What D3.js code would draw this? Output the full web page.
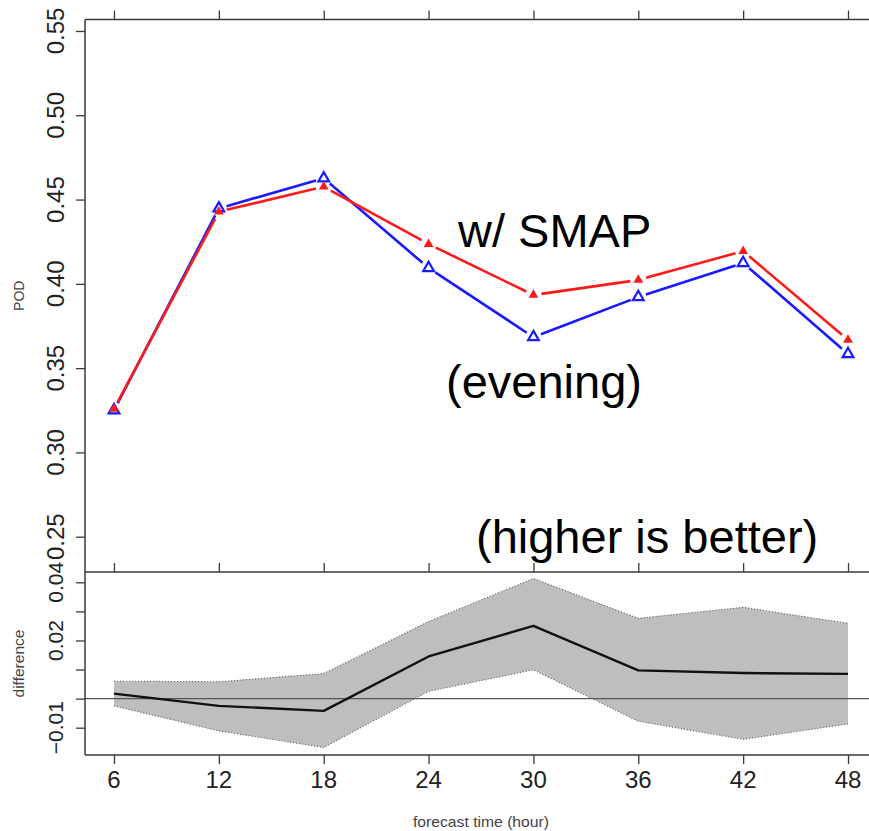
<!DOCTYPE html>
<html>
<head>
<meta charset="utf-8">
<script src="https://cdn.jsdelivr.net/npm/d3@7"></script>
<style>
  html, body { margin: 0; padding: 0; background: #fff; }
  svg { display: block; }
  svg text { font-family: "Liberation Sans", Arial, Helvetica, sans-serif; }
</style>
</head>
<body>
<svg id="chart" width="869" height="831"></svg>
<script>
// ---- data ----
const hours = [6, 12, 18, 24, 30, 36, 42, 48];
const podSMAP = [0.3258, 0.4428, 0.4576, 0.4236, 0.3934, 0.4023, 0.4194, 0.3667];   // red, filled triangles
const podCtrl = [0.3250, 0.4448, 0.4626, 0.4094, 0.3684, 0.3922, 0.4124, 0.3584];   // blue, open triangles
const diffMean  = [0.0017, -0.0025, -0.0042, 0.0145, 0.0250, 0.0097, 0.0088, 0.0085];
const diffUpper = [0.0060, 0.0058, 0.0086, 0.0265, 0.0413, 0.0276, 0.0314, 0.0259];
const diffLower = [-0.0025, -0.0111, -0.0168, 0.0025, 0.0099, -0.0078, -0.0140, -0.0087];
const podTicks = [0.25, 0.30, 0.35, 0.40, 0.45, 0.50, 0.55];
const podTickLabels = ["0.25", "0.30", "0.35", "0.40", "0.45", "0.50", "0.55"];
const diffTicks = [-0.01, 0, 0.01, 0.02, 0.03, 0.04];
const diffLabelTicks = [-0.01, 0.02, 0.04];
const diffTickLabels = ["\u22120.01", "0.02", "0.04"];
const xTickLabels = ["6", "12", "18", "24", "30", "36", "42", "48"];
const annotations = ["w/ SMAP", "(evening)", "(higher is better)"];

// ---- layout ----
const L = 85, R = 877, T = 19.5, MID = 572, B = 755;
const svg = d3.select("#chart");
const FONT = "'Liberation Sans', Arial, Helvetica, sans-serif";

const x = d3.scaleLinear().domain([6, 48]).range([114, 848]);
const yTop = d3.scaleLinear().domain([0.25, 0.55]).range([536.7, 31]);
const yBot = d3.scaleLinear().domain([-0.01, 0.04]).range([727.7, 582.3]);

const axisColor = "#3a3a3a";

// ---- bottom panel: band ----
const band = hours.map((h, i) => ({h, lo: diffLower[i], hi: diffUpper[i], m: diffMean[i]}));
svg.append("path")
  .datum(band)
  .attr("d", d3.area().x(d => x(d.h)).y0(d => yBot(d.lo)).y1(d => yBot(d.hi)))
  .attr("fill", "#bebebe");
[d => d.hi, d => d.lo].forEach(acc => {
  svg.append("path")
    .datum(band)
    .attr("d", d3.line().x(d => x(d.h)).y(d => yBot(acc(d))))
    .attr("fill", "none").attr("stroke", "#666").attr("stroke-width", 1.1)
    .attr("stroke-dasharray", "1.2,1.8");
});
// zero line
svg.append("line")
  .attr("x1", L).attr("x2", 869).attr("y1", yBot(0)).attr("y2", yBot(0))
  .attr("stroke", "#555").attr("stroke-width", 1.2);
// mean diff line
svg.append("path")
  .datum(band)
  .attr("d", d3.line().x(d => x(d.h)).y(d => yBot(d.m)))
  .attr("fill", "none").attr("stroke", "#111").attr("stroke-width", 2.4)
  .attr("stroke-linejoin", "round");

// ---- top panel: lines with gaps (type = "b") ----
function gappedSegments(vals, color) {
  const pts = hours.map((h, i) => [x(h), yTop(vals[i])]);
  const gap = 8;
  const segs = [];
  for (let i = 0; i < pts.length - 1; i++) {
    const [x1, y1] = pts[i], [x2, y2] = pts[i + 1];
    const dx = x2 - x1, dy = y2 - y1, len = Math.hypot(dx, dy);
    const ux = dx / len, uy = dy / len;
    segs.push([x1 + ux * gap, y1 + uy * gap, x2 - ux * gap, y2 - uy * gap]);
  }
  svg.append("g").selectAll("line").data(segs).join("line")
    .attr("x1", d => d[0]).attr("y1", d => d[1]).attr("x2", d => d[2]).attr("y2", d => d[3])
    .attr("stroke", color).attr("stroke-width", 2.6).attr("stroke-linecap", "butt");
}
gappedSegments(podCtrl, "#1a1aff");
gappedSegments(podSMAP, "#ff1a1a");

const triOpen = d3.symbol(d3.symbolTriangle, 50)();
const triFill = d3.symbol(d3.symbolTriangle, 42)();
svg.append("g").selectAll("path").data(hours).join("path")
  .attr("d", triOpen)
  .attr("transform", (h, i) => `translate(${x(h)},${yTop(podCtrl[i])})`)
  .attr("fill", "none").attr("stroke", "#1a1aff").attr("stroke-width", 2.2);
svg.append("g").selectAll("path").data(hours).join("path")
  .attr("d", triFill)
  .attr("transform", (h, i) => `translate(${x(h)},${yTop(podSMAP[i])})`)
  .attr("fill", "#ff1a1a");

// ---- frames ----
const frame = svg.append("g").attr("stroke", axisColor).attr("stroke-width", 1.5).attr("fill", "none");
frame.append("line").attr("x1", L).attr("x2", R).attr("y1", T).attr("y2", T);
frame.append("line").attr("x1", L).attr("x2", R).attr("y1", MID).attr("y2", MID);
frame.append("line").attr("x1", L).attr("x2", R).attr("y1", B).attr("y2", B);
frame.append("line").attr("x1", L).attr("x2", L).attr("y1", T).attr("y2", B);
frame.append("line").attr("x1", R).attr("x2", R).attr("y1", T).attr("y2", B);

function styleAxis(g) {
  g.select(".domain").remove();
  g.selectAll(".tick line").attr("stroke", axisColor).attr("stroke-width", 1.3);
  g.attr("font-family", FONT);
}

// x ticks at top of both panels
svg.append("g").attr("transform", `translate(0,${T})`)
  .call(d3.axisTop(x).tickValues(hours).tickSize(9).tickFormat(""))
  .call(styleAxis);
svg.append("g").attr("transform", `translate(0,${MID})`)
  .call(d3.axisTop(x).tickValues(hours).tickSize(9).tickFormat(""))
  .call(styleAxis);
// bottom x axis ticks
svg.append("g").attr("transform", `translate(0,${B})`)
  .call(d3.axisBottom(x).tickValues(hours).tickSize(9).tickFormat(""))
  .call(styleAxis);
// bottom x labels
svg.append("g").selectAll("text").data(hours).join("text")
  .attr("x", d => x(d)).attr("y", 788)
  .attr("text-anchor", "middle")
  .style("font-family", FONT)
  .attr("font-size", 24).attr("fill", "#222")
  .text((d, i) => xTickLabels[i]);

// left y axis top panel
svg.append("g").attr("transform", `translate(${L},0)`)
  .call(d3.axisLeft(yTop).tickValues(podTicks).tickSize(9).tickFormat(""))
  .call(styleAxis);
svg.append("g").selectAll("text").data(podTicks).join("text")
  .attr("transform", d => `translate(63.5,${yTop(d)}) rotate(-90)`)
  .attr("text-anchor", "middle")
  .style("font-family", FONT)
  .attr("font-size", 24).attr("fill", "#222")
  .text((d, i) => podTickLabels[i]);

// left y axis bottom panel
svg.append("g").attr("transform", `translate(${L},0)`)
  .call(d3.axisLeft(yBot).tickValues(diffTicks).tickSize(9).tickFormat(""))
  .call(styleAxis);
svg.append("g").selectAll("text").data(diffLabelTicks).join("text")
  .attr("transform", d => `translate(63.3,${yBot(d)}) rotate(-90)`)
  .attr("text-anchor", "middle")
  .style("font-family", FONT)
  .attr("font-size", 21).attr("fill", "#222")
  .text((d, i) => diffTickLabels[i]);

// axis titles
svg.append("text")
  .attr("transform", `translate(24,${(T + MID) / 2}) rotate(-90)`)
  .attr("text-anchor", "middle").attr("font-size", 14).attr("fill", "#444")
  .text("POD");
svg.append("text")
  .attr("transform", `translate(24,${(MID + B) / 2}) rotate(-90)`)
  .attr("text-anchor", "middle").attr("font-size", 14.5).attr("fill", "#444")
  .attr("textLength", 68).attr("lengthAdjust", "spacingAndGlyphs")
  .text("difference");
svg.append("text")
  .attr("x", (L + R) / 2).attr("y", 827)
  .attr("text-anchor", "middle").attr("font-size", 14.5).attr("fill", "#444")
  .attr("textLength", 136).attr("lengthAdjust", "spacingAndGlyphs")
  .text("forecast time (hour)");

// annotations
const annPos = [[458, 247], [446, 398], [476, 553]];
svg.append("g").selectAll("text").data(annotations).join("text")
  .attr("x", (d, i) => annPos[i][0]).attr("y", (d, i) => annPos[i][1])
  .attr("font-size", 47).attr("fill", "#000")
  .text(d => d);
</script>
</body>
</html>
